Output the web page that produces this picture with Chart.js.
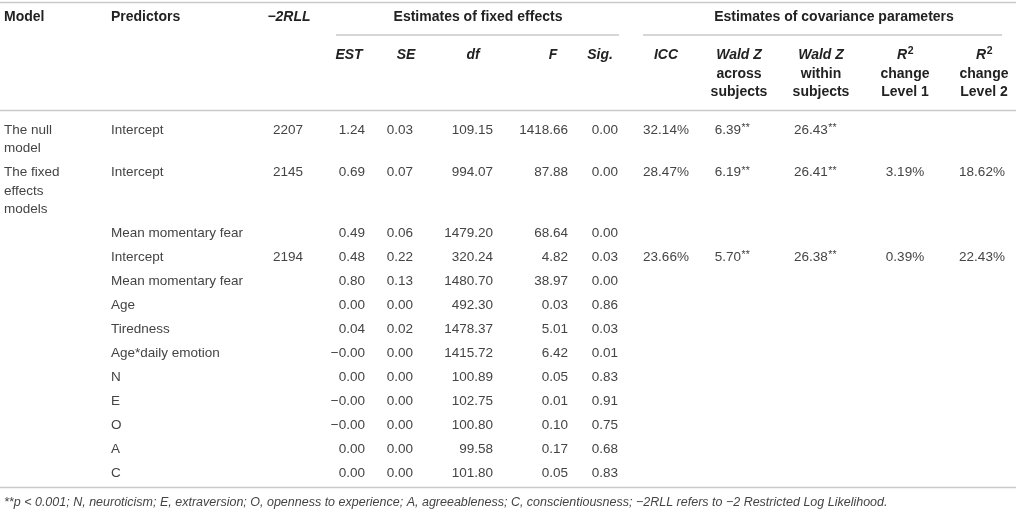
<!DOCTYPE html>
<html lang="en">
<head>
<meta charset="UTF-8">
<title>Estimates of fixed effects and covariance parameters</title>
<script src="https://cdn.jsdelivr.net/npm/chart.js@4.4.1/dist/chart.umd.min.js"></script>
<style>
    body { margin: 0; background: #fff; }
    #caixa { position: relative; width: 1016px; height: 512px; }
</style>
</head>
<body>
<div id="caixa"><canvas id="tabela"></canvas></div>

<script>
    // dados da tabela, uma lista por coluna
    var modelos = ['The null\nmodel', 'The fixed\neffects\nmodels', '', '', '', '', '', '', '', '', '', '', '']
    var preditores = ['Intercept', 'Intercept', 'Mean momentary fear', 'Intercept', 'Mean momentary fear', 'Age',
        'Tiredness', 'Age*daily emotion', 'N', 'E', 'O', 'A', 'C']
    var rll = ['2207', '2145', '', '2194', '', '', '', '', '', '', '', '', '']
    var est = ['1.24', '0.69', '0.49', '0.48', '0.80', '0.00', '0.04', '\u22120.00', '0.00', '\u22120.00', '\u22120.00', '0.00', '0.00']
    var se = ['0.03', '0.07', '0.06', '0.22', '0.13', '0.00', '0.02', '0.00', '0.00', '0.00', '0.00', '0.00', '0.00']
    var df = ['109.15', '994.07', '1479.20', '320.24', '1480.70', '492.30', '1478.37', '1415.72', '100.89', '102.75', '100.80', '99.58', '101.80']
    var valorF = ['1418.66', '87.88', '68.64', '4.82', '38.97', '0.03', '5.01', '6.42', '0.05', '0.01', '0.10', '0.17', '0.05']
    var sig = ['0.00', '0.00', '0.00', '0.03', '0.00', '0.86', '0.03', '0.01', '0.83', '0.91', '0.75', '0.68', '0.83']
    var icc = ['32.14%', '28.47%', '', '23.66%', '', '', '', '', '', '', '', '', '']
    var waldEntre = ['6.39**', '6.19**', '', '5.70**', '', '', '', '', '', '', '', '', '']
    var waldDentro = ['26.43**', '26.41**', '', '26.38**', '', '', '', '', '', '', '', '', '']
    var r2nivel1 = ['', '3.19%', '', '0.39%', '', '', '', '', '', '', '', '', '']
    var r2nivel2 = ['', '18.62%', '', '22.43%', '', '', '', '', '', '', '', '', '']

    var nota = '**p < 0.001; N, neuroticism; E, extraversion; O, openness to experience; A, agreeableness; ' +
        'C, conscientiousness; \u22122RLL refers to \u22122 Restricted Log Likelihood.'

    // colunas: lista, posição x e alinhamento
    var colunas = [
        { dados: modelos, x: 4, alinha: 'left' },
        { dados: preditores, x: 111, alinha: 'left' },
        { dados: rll, x: 288, alinha: 'center' },
        { dados: est, x: 365, alinha: 'right' },
        { dados: se, x: 413, alinha: 'right' },
        { dados: df, x: 493, alinha: 'right' },
        { dados: valorF, x: 568, alinha: 'right' },
        { dados: sig, x: 618, alinha: 'right' },
        { dados: icc, x: 666, alinha: 'center' },
        { dados: waldEntre, x: 732, alinha: 'center' },
        { dados: waldDentro, x: 815, alinha: 'center' },
        { dados: r2nivel1, x: 905, alinha: 'center' },
        { dados: r2nivel2, x: 982, alinha: 'center' }
    ]

    // cabeçalho de baixo: linhas de texto por coluna (primeira linha em itálico)
    var cabecalhos = [
        { x: 349, linhas: ['EST'] },
        { x: 406, linhas: ['SE'] },
        { x: 473, linhas: ['df'] },
        { x: 553, linhas: ['F'] },
        { x: 600, linhas: ['Sig.'] },
        { x: 666, linhas: ['ICC'] },
        { x: 739, linhas: ['Wald Z', 'across', 'subjects'] },
        { x: 821, linhas: ['Wald Z', 'within', 'subjects'] },
        { x: 905, linhas: ['R2', 'change', 'Level 1'] },
        { x: 984, linhas: ['R2', 'change', 'Level 2'] }
    ]

    var FONTE = '"Liberation Sans", Arial, sans-serif'
    var COR_TEXTO = '#444'
    var COR_CAB = '#222'
    var COR_LINHA = '#c9c9c9'
    var TAM_CAB = '14px '
    var TAM_DADO = '13.5px '

    var ALT_LINHA = 18.2   // altura de cada linha de texto dentro da célula
    var ESPACO = 24        // distância entre células
    var Y_INICIO = 130.5

    // y de cada linha da tabela a partir do número de linhas do modelo
    var posY = []
    var yAtual = Y_INICIO
    for (var i = 0; i < preditores.length; i++) {
        posY.push(yAtual)
        var n = modelos[i] ? modelos[i].split('\n').length : 1
        yAtual += (n - 1) * ALT_LINHA + ESPACO
    }

    function escreverComAsteriscos(ctx, texto, x, y, alinha, fonte, fontePequena) {
        var base = texto.replace(/\*+$/, '')
        var ast = texto.slice(base.length)
        ctx.font = fonte
        var w1 = ctx.measureText(base).width
        ctx.font = fontePequena
        var w2 = ctx.measureText(ast).width
        var total = w1 + w2
        var x0 = x
        if (alinha == 'center') x0 = x - total / 2
        if (alinha == 'right') x0 = x - total
        ctx.textAlign = 'left'
        ctx.font = fonte
        ctx.fillText(base, x0, y)
        if (ast) {
            ctx.font = fontePequena
            ctx.fillText(ast, x0 + w1 + 0.5, y - 2)
        }
    }

    const pluginTabela = {
        id: 'pluginTabela',
        afterDraw(chart) {
            const ctx = chart.ctx
            const sx = chart.scales.x
            const sy = chart.scales.y
            ctx.save()
            ctx.textBaseline = 'middle'

            function linhaH(x1, x2, y, largura) {
                ctx.strokeStyle = COR_LINHA
                ctx.lineWidth = largura || 1.5
                ctx.beginPath()
                ctx.moveTo(sx.getPixelForValue(x1), sy.getPixelForValue(y))
                ctx.lineTo(sx.getPixelForValue(x2), sy.getPixelForValue(y))
                ctx.stroke()
            }

            // regras horizontais
            linhaH(0, 1016, 2.5)
            linhaH(336, 619, 35)
            linhaH(643, 1002, 35)
            linhaH(0, 1016, 110.5)
            linhaH(0, 1016, 487.5)

            // cabeçalho de cima
            ctx.fillStyle = COR_CAB
            ctx.font = 'bold ' + TAM_CAB + FONTE
            ctx.textAlign = 'left'
            ctx.fillText('Model', sx.getPixelForValue(4), sy.getPixelForValue(17))
            ctx.fillText('Predictors', sx.getPixelForValue(111), sy.getPixelForValue(17))
            ctx.textAlign = 'center'
            ctx.fillText('Estimates of fixed effects', sx.getPixelForValue(478), sy.getPixelForValue(17))
            ctx.fillText('Estimates of covariance parameters', sx.getPixelForValue(834), sy.getPixelForValue(17))
            ctx.font = 'italic bold ' + TAM_CAB + FONTE
            ctx.fillText('\u22122RLL', sx.getPixelForValue(289), sy.getPixelForValue(17))

            // cabeçalho de baixo
            cabecalhos.forEach(function (c) {
                c.linhas.forEach(function (t, k) {
                    var px = sx.getPixelForValue(c.x)
                    var py = sy.getPixelForValue(55.5 + k * 18.5)
                    if (k == 0 && t == 'R2') {
                        ctx.font = 'italic bold ' + TAM_CAB + FONTE
                        var wR = ctx.measureText('R').width
                        ctx.font = 'bold 10.5px ' + FONTE
                        var w2 = ctx.measureText('2').width
                        var x0 = px - (wR + w2) / 2
                        ctx.textAlign = 'left'
                        ctx.font = 'italic bold ' + TAM_CAB + FONTE
                        ctx.fillText('R', x0, py)
                        ctx.font = 'bold 10.5px ' + FONTE
                        ctx.fillText('2', x0 + wR + 0.5, py - 4)
                    } else {
                        ctx.textAlign = 'center'
                        ctx.font = (k == 0 ? 'italic ' : '') + 'bold ' + TAM_CAB + FONTE
                        ctx.fillText(t, px, py)
                    }
                })
            })

            // células
            ctx.fillStyle = COR_TEXTO
            colunas.forEach(function (col) {
                col.dados.forEach(function (valor, i) {
                    if (!valor) return
                    valor.split('\n').forEach(function (t, k) {
                        var px = sx.getPixelForValue(col.x)
                        var py = sy.getPixelForValue(posY[i] + k * ALT_LINHA)
                        escreverComAsteriscos(ctx, t, px, py, col.alinha, TAM_DADO + FONTE, '10.5px ' + FONTE)
                    })
                })
            })

            // nota de rodapé
            ctx.fillStyle = '#444'
            ctx.font = 'italic 12.5px ' + FONTE
            ctx.textAlign = 'left'
            ctx.fillText(nota, sx.getPixelForValue(4), sy.getPixelForValue(503))

            ctx.restore()
        }
    }

    const config = {
        type: 'scatter',
        data: { datasets: [{ data: [] }] },
        options: {
            responsive: true,
            maintainAspectRatio: false,
            animation: false,
            layout: { padding: 0 },
            plugins: { legend: { display: false }, tooltip: { enabled: false } },
            scales: {
                x: { type: 'linear', min: 0, max: 1016, display: false },
                y: { type: 'linear', min: 0, max: 512, reverse: true, display: false }
            }
        },
        plugins: [pluginTabela]
    }

    const grafico = new Chart(document.getElementById('tabela'), config)
</script>
</body>
</html>
